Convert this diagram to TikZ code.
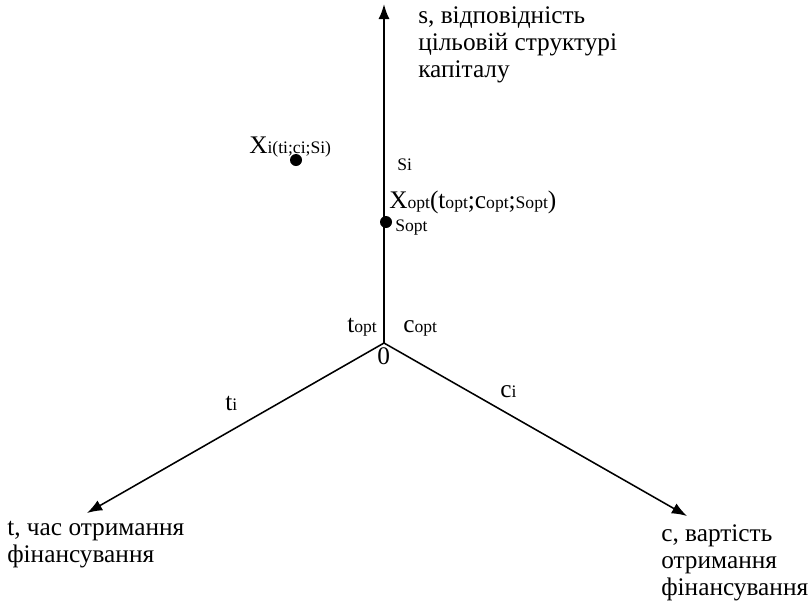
\documentclass[tikz,border=0pt]{standalone}
\usepackage{fontspec}
\setmainfont{Liberation Serif}
\usetikzlibrary{arrows.meta,positioning}
\newcommand{\lo}[1]{{\fontsize{12.5}{14}\selectfont #1}}
\newcommand{\hi}[1]{{\fontsize{18}{20}\selectfont #1}}

\begin{document}
\begin{tikzpicture}[>=Latex,x=0.025cm,y=-0.025cm]
\useasboundingbox (0,0) rectangle (810,606);
\coordinate (o) at (384,343);
\coordinate (sEnd) at (384,4);
\coordinate (tEnd) at (87,513);
\coordinate (cEnd) at (687,516);
\draw[line width=1.3pt,-{Latex[length=3.8mm,width=2.8mm]}] (o)--(sEnd);
\draw[line width=1.1pt,-{Latex[length=3.8mm,width=2.8mm]}] (o)--(tEnd);
\draw[line width=1.1pt,-{Latex[length=3.8mm,width=2.8mm]}] (o)--(cEnd);
\node[circle,fill=black,inner sep=0pt,minimum size=0.3cm] (xi) at (296,160) {};
\node[circle,fill=black,inner sep=0pt,minimum size=0.3cm] (xopt) at (386,222) {};
\node[anchor=north west,align=left,inner sep=0pt,font=\fontsize{18}{19.4}\selectfont] (sLab) at (418,6) {s, відповідність\\цільовій структурі\\капіталу};
\node[anchor=north west,align=left,inner sep=0pt,font=\fontsize{18}{19.4}\selectfont] (tLab) at (7,521) {t, час отримання\\фінансування};
\node[anchor=north west,align=left,inner sep=0pt,font=\fontsize{18}{19.4}\selectfont] (cLab) at (661,524) {c, вартість\\отримання\\фінансування};
\node[anchor=base west,inner sep=0pt] (xiLab) at (249,153) {\hi{X}\lo{i(ti;ci;Si)}};
\node[anchor=base west,inner sep=0pt] (xoptLab) at (389,208) {\hi{X}\lo{opt}\hi{(t}\lo{opt}\hi{;c}\lo{opt}\hi{;}\lo{Sopt}\hi{)}};
\node[anchor=base west,inner sep=0pt] (siLab) at (397,170) {\lo{Si}};
\node[anchor=base west,inner sep=0pt] (soptLab) at (395,231) {\lo{Sopt}};
\node[anchor=base west,inner sep=0pt] (toptLab) at (347,332) {\hi{t}\lo{opt}};
\node[anchor=base west,inner sep=0pt] (coptLab) at (403,332) {\hi{c}\lo{opt}};
\node[anchor=base west,inner sep=0pt] (zero) at (377,364) {\hi{0}};
\node[anchor=base west,inner sep=0pt] (tiLab) at (225,410) {\hi{t}\lo{i}};
\node[anchor=base west,inner sep=0pt] (ciLab) at (500,397) {\hi{c}\lo{i}};
\end{tikzpicture}
\end{document}
